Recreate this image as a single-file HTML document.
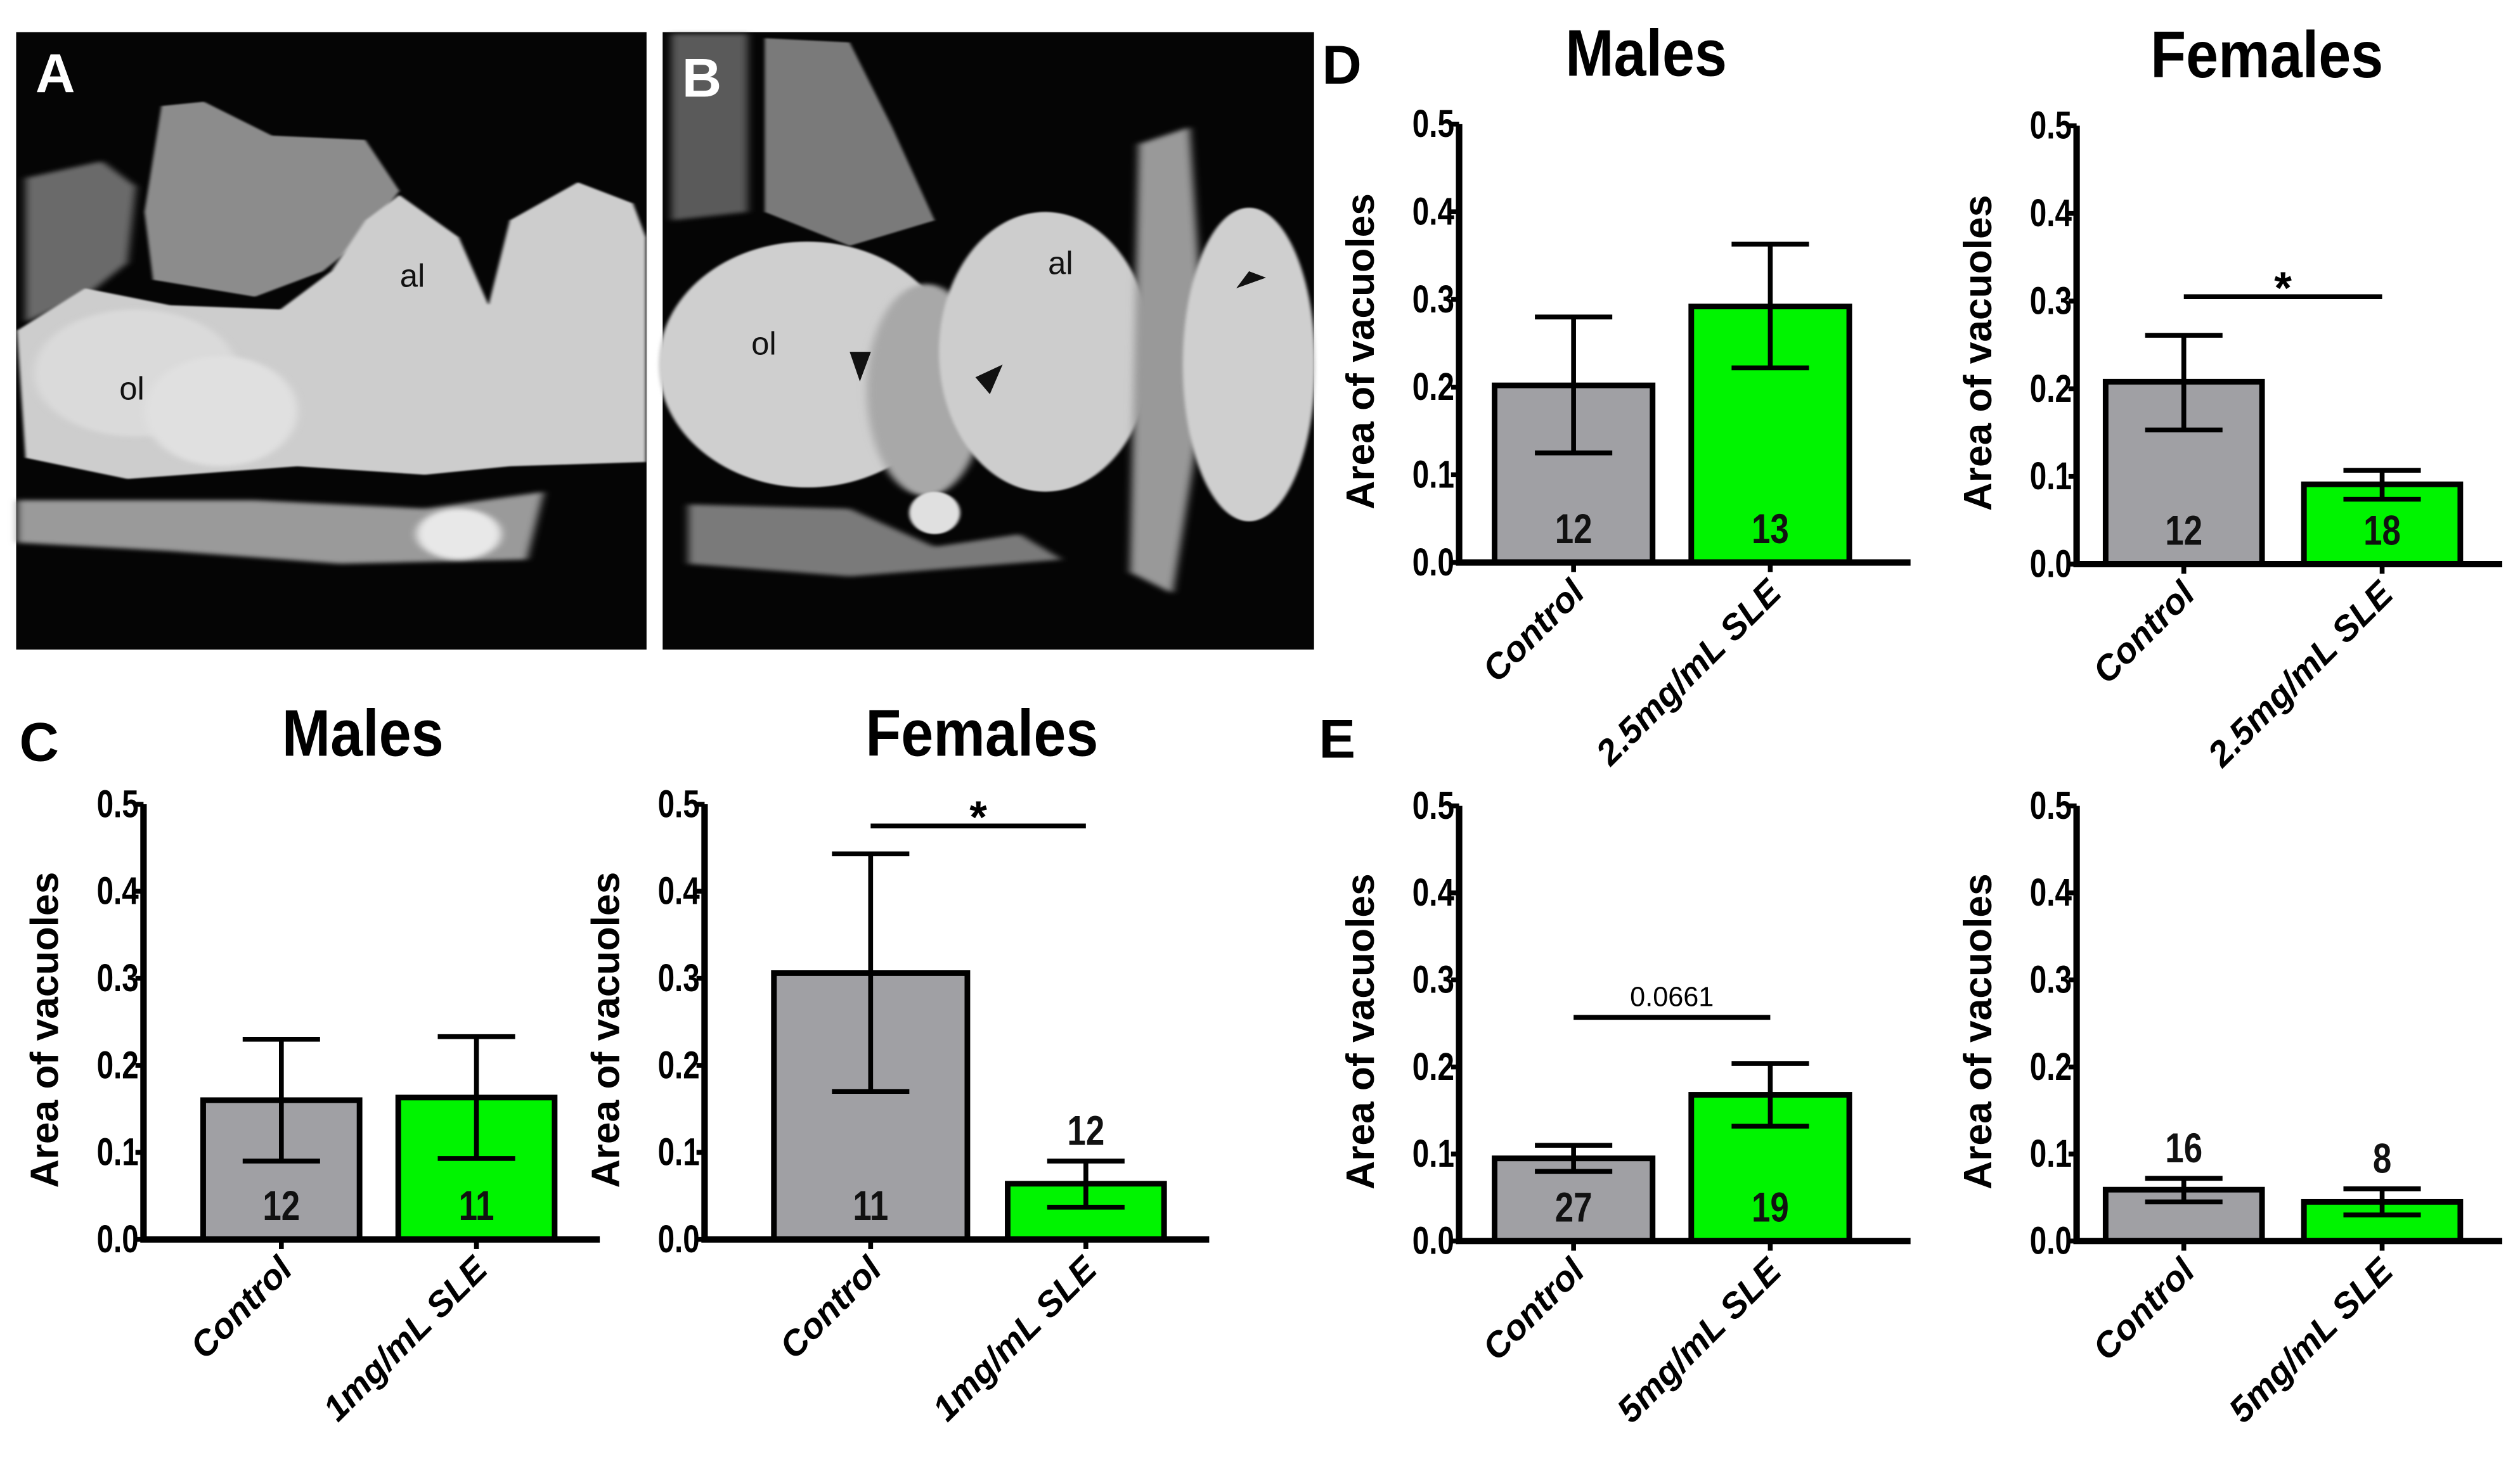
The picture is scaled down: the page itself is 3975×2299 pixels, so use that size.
<!DOCTYPE html>
<html><head><meta charset="utf-8"><style>
html,body{margin:0;padding:0;background:#fff;}
svg{display:block;}
text{font-family:"Liberation Sans",Arial,sans-serif;font-weight:bold;}
</style></head><body>
<svg id="fig" width="3975" height="2299" viewBox="0 0 1563 904" xmlns="http://www.w3.org/2000/svg">
<defs>
<filter id="blur2" x="-10%" y="-10%" width="120%" height="120%"><feGaussianBlur stdDeviation="2"/></filter>
<filter id="blur5" x="-20%" y="-20%" width="140%" height="140%"><feGaussianBlur stdDeviation="5"/></filter>
</defs>
<g>
<rect x="10" y="20" width="391" height="383" fill="#050505"/>
<g transform="scale(0.527,0.263)">
<path d="M30,420 L120,380 L160,440 L150,620 L100,700 L30,760 Z" fill="#6a6a6a" filter="url(#blur5)"/>
<path d="M190,250 L240,240 L320,320 L430,330 L470,450 L430,560 L380,640 L300,700 L180,660 L170,500 Z" fill="#8c8c8c" filter="url(#blur2)"/>
<path d="M20,780 L100,680 L200,720 L330,730 L390,640 L430,520 L470,460 L540,560 L575,720 L600,520 L680,430 L745,480 L760,560 L760,1090 L600,1100 L500,1120 L350,1100 L150,1130 L30,1080 Z" fill="#cdcdcd" filter="url(#blur2)"/>
<path d="M20,1180 L300,1180 L500,1200 L640,1160 L620,1320 L400,1330 L200,1300 L20,1280 Z" fill="#9a9a9a" filter="url(#blur5)"/>
<ellipse cx="540" cy="1260" rx="50" ry="60" fill="#e8e8e8" filter="url(#blur5)"/>
<ellipse cx="160" cy="880" rx="120" ry="150" fill="#dadada" filter="url(#blur5)"/>
<ellipse cx="260" cy="970" rx="90" ry="130" fill="#e0e0e0" filter="url(#blur5)"/>
</g>
<text x="22" y="57" font-size="34" fill="#fff">A</text>
<text x="248" y="178" font-size="20" fill="#111" style="font-weight:normal">al</text>
<text x="74" y="248" font-size="20" fill="#111" style="font-weight:normal">ol</text>
</g>
<g>
<rect x="411" y="20" width="404" height="383" fill="#050505"/>
<g transform="scale(0.527,0.263)">
<path d="M790,80 L880,80 L880,500 L790,520 Z" fill="#5a5a5a" filter="url(#blur5)"/>
<path d="M900,90 L1000,100 L1050,300 L1100,520 L1000,580 L900,500 Z" fill="#7a7a7a" filter="url(#blur2)"/>
<ellipse cx="950" cy="860" rx="175" ry="290" fill="#cfcfcf" filter="url(#blur2)"/>
<ellipse cx="1090" cy="920" rx="70" ry="250" fill="#a8a8a8" filter="url(#blur5)"/>
<ellipse cx="1230" cy="830" rx="125" ry="330" fill="#cdcdcd" filter="url(#blur2)"/>
<path d="M1340,340 L1400,300 L1420,900 L1380,1400 L1330,1350 Z" fill="#999" filter="url(#blur5)"/>
<ellipse cx="1470" cy="860" rx="78" ry="370" fill="#cfcfcf" filter="url(#blur2)"/>
<path d="M810,1190 L1000,1200 L1100,1290 L1200,1260 L1250,1320 L1000,1360 L810,1330 Z" fill="#7a7a7a" filter="url(#blur5)"/>
<ellipse cx="1100" cy="1210" rx="30" ry="50" fill="#e0e0e0" filter="url(#blur2)"/>
<polygon points="1000,830 1025,830 1012,900" fill="#111"/>
<polygon points="1180,860 1165,930 1148,890" fill="#111"/>
<polygon points="1490,655 1455,680 1470,640" fill="#111"/>
</g>
<text x="423" y="60" font-size="34" fill="#fff">B</text>
<text x="650" y="170" font-size="20" fill="#111" style="font-weight:normal">al</text>
<text x="466" y="220" font-size="20" fill="#111" style="font-weight:normal">ol</text>
</g>
<text x="820" y="52" font-size="34" fill="#000">D</text>
<text x="12" y="472" font-size="34" fill="#000">C</text>
<text x="818" y="470" font-size="34" fill="#000">E</text>
<g id="charts"></g>
</svg>
<script>
const cats_DM = ["Control", "2.5mg/mL SLE"];
const mean_DM = [0.202, 0.292];
const lo_DM = [0.125, 0.222];
const hi_DM = [0.280, 0.363];
const n_DM = ["12", "13"];

const cats_DF = ["Control", "2.5mg/mL SLE"];
const mean_DF = [0.208, 0.091];
const lo_DF = [0.153, 0.074];
const hi_DF = [0.261, 0.107];
const n_DF = ["12", "18"];

const cats_CM = ["Control", "1mg/mL SLE"];
const mean_CM = [0.160, 0.163];
const lo_CM = [0.090, 0.093];
const hi_CM = [0.230, 0.233];
const n_CM = ["12", "11"];

const cats_CF = ["Control", "1mg/mL SLE"];
const mean_CF = [0.306, 0.064];
const lo_CF = [0.170, 0.037];
const hi_CF = [0.443, 0.090];
const n_CF = ["11", "12"];

const cats_EM = ["Control", "5mg/mL SLE"];
const mean_EM = [0.095, 0.168];
const lo_EM = [0.080, 0.132];
const hi_EM = [0.110, 0.204];
const n_EM = ["27", "19"];

const cats_EF = ["Control", "5mg/mL SLE"];
const mean_EF = [0.059, 0.045];
const lo_EF = [0.045, 0.030];
const hi_EF = [0.072, 0.060];
const n_EF = ["16", "8"];

const yTicks = [0.0, 0.1, 0.2, 0.3, 0.4, 0.5];
const yTickLabels = ["0.0", "0.1", "0.2", "0.3", "0.4", "0.5"];
const barColors = ["#a0a0a4", "#00f400"];

const NS = "http://www.w3.org/2000/svg";
const root = document.getElementById("charts");
function mk(tag, attrs, parent) {
  const e = document.createElementNS(NS, tag);
  for (const k in attrs) e.setAttribute(k, attrs[k]);
  parent.appendChild(e);
  return e;
}

const layouts = [
  {id:"d-males", title:"Males", tx:1021, cats:cats_DM, mean:mean_DM, lo:lo_DM, hi:hi_DM, n:n_DM, ax:905, top:77, bot:349, xEnd:1185, bars:[927,1049], bw:98, nPos:"in"},
  {id:"d-females", title:"Females", tx:1406, cats:cats_DF, mean:mean_DF, lo:lo_DF, hi:hi_DF, n:n_DF, ax:1288, top:78, bot:350, xEnd:1552, bars:[1306,1429], bw:97, nPos:"in", sig:{label:"*", y:0.305}},
  {id:"c-males", title:"Males", tx:225, cats:cats_CM, mean:mean_CM, lo:lo_CM, hi:hi_CM, n:n_CM, ax:89, top:499, bot:769, xEnd:372, bars:[126,247], bw:97, nPos:"in"},
  {id:"c-females", title:"Females", tx:609, cats:cats_CF, mean:mean_CF, lo:lo_CF, hi:hi_CF, n:n_CF, ax:437, top:499, bot:769, xEnd:750, bars:[480,625], bw:120, bw2:97, nPos:"cf", sig:{label:"*", y:0.475}},
  {id:"e-males", title:"", cats:cats_EM, mean:mean_EM, lo:lo_EM, hi:hi_EM, n:n_EM, ax:905, top:500, bot:770, xEnd:1185, bars:[927,1049], bw:98, nPos:"in", sig:{label:"0.0661", y:0.257, small:true}},
  {id:"e-females", title:"", cats:cats_EF, mean:mean_EF, lo:lo_EF, hi:hi_EF, n:n_EF, ax:1288, top:500, bot:770, xEnd:1552, bars:[1306,1429], bw:97, nPos:"above"}
];

layouts.forEach(L => {
  const g = mk("g", {}, root);
  
  
  const y = v => L.bot - (v / 0.5) * (L.bot - L.top);
  const cx = i => L.bars[i] + ((i === 1 && L.bw2) ? L.bw2 : L.bw) / 2;
  if (L.title) {
    const t = mk("text", {transform: `translate(${L.tx},${L.top - 30}) scale(0.88,1)`, "font-size": 41, "text-anchor": "middle", fill: "#000"}, g);
    t.textContent = L.title;
    
    
  }
  yTicks.forEach((v, i) => {
    const tl = mk("text", {transform: `translate(${L.ax - 3},${y(v) + 8}) scale(0.78,1)`, "font-size": 24, "text-anchor": "end", fill: "#000"}, g);
    tl.textContent = yTickLabels[i];
    
    
    const tk = mk("line", {x1: L.ax - 5, x2: L.ax, y1: y(v), y2: y(v), stroke: "#000", "stroke-width": 3}, g);
    
    
  });
  const yt = mk("text", {transform: `translate(${L.ax - 53},${(L.top + L.bot) / 2 + 5}) rotate(-90)`, "font-size": 24.5, "text-anchor": "middle", fill: "#000"}, g);
  yt.textContent = "Area of vacuoles";
  
  
  L.mean.forEach((m, i) => {
    const w = (i === 1 && L.bw2) ? L.bw2 : L.bw;
    const r = mk("rect", {x: L.bars[i], y: y(m), width: w, height: L.bot - y(m), fill: barColors[i], stroke: "#000", "stroke-width": 3.5}, g);
    
    
    const c = cx(i);
    const eb = mk("path", {d: `M${c},${y(L.lo[i])}V${y(L.hi[i])}M${c - 24},${y(L.hi[i])}H${c + 24}M${c - 24},${y(L.lo[i])}H${c + 24}`, stroke: "#000", "stroke-width": 3, fill: "none"}, g);
    
    
    let ny;
    if (L.nPos === "in") ny = L.bot - 12;
    else if (L.nPos === "above") ny = y(L.hi[i]) - 10;
    else ny = (i === 0) ? L.bot - 12 : y(L.hi[i]) - 10;
    const nt = mk("text", {transform: `translate(${c},${ny}) scale(0.8,1)`, "font-size": 26, "text-anchor": "middle", fill: "#111"}, g);
    nt.textContent = L.n[i];
    
    
    const tk = mk("line", {x1: c, x2: c, y1: L.bot, y2: L.bot + 6, stroke: "#000", "stroke-width": 3}, g);
    
    
    const xl = mk("text", {transform: `translate(${c + 8},${L.bot + 20}) rotate(-45)`, "font-size": 22, "text-anchor": "end", "font-style": "italic", fill: "#000"}, g);
    xl.textContent = L.cats[i];
    
    
  });
  const axp = mk("path", {d: `M${L.ax},${L.top}V${L.bot}H${L.xEnd}`, stroke: "#000", "stroke-width": 4, fill: "none"}, g);
  
  
  if (L.sig && L.sig.label) {
    const sy = y(L.sig.y);
    const sl = mk("line", {x1: cx(0), x2: cx(1), y1: sy, y2: sy, stroke: "#000", "stroke-width": 3}, g);
    
    
    const st = mk("text", {x: (cx(0) + cx(1)) / 2, y: L.sig.small ? sy - 7 : sy + 4, "font-size": L.sig.small ? 17 : 28, "text-anchor": "middle", fill: "#000", style: L.sig.small ? "font-weight:normal" : ""}, g);
    st.textContent = L.sig.label;
    
    
  }
});
</script>
</body></html>
